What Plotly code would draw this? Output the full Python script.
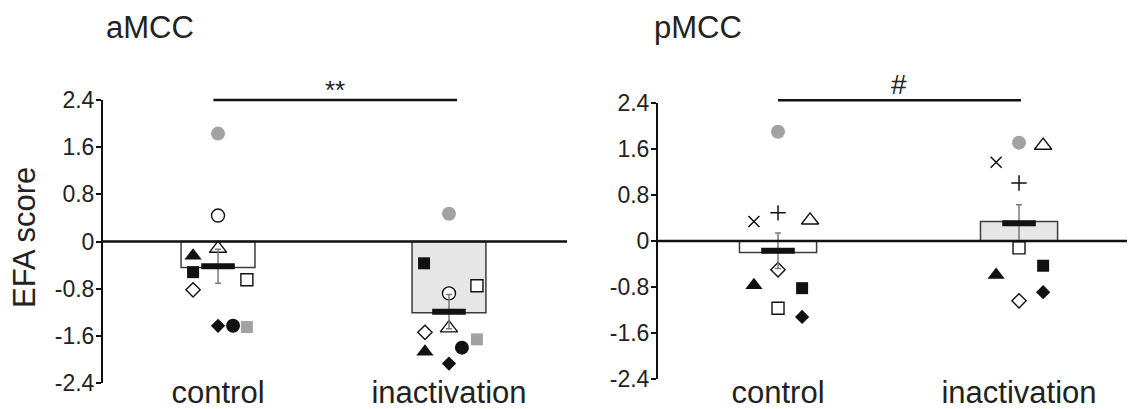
import plotly.graph_objects as go

# ---------------- data ----------------
categories = ["control", "inactivation"]
y_ticks = [-2.4, -1.6, -0.8, 0, 0.8, 1.6, 2.4]
y_ticktext = ["-2.4", "-1.6", "-0.8", "0", "0.8", "1.6", "2.4"]

# aMCC panel (10 animals)
amcc_animals = ["gray circle", "open circle", "open triangle", "filled triangle", "filled square",
                "open diamond", "open square", "filled diamond", "filled circle", "gray square"]
amcc_control = [1.83, 0.44, -0.12, -0.24, -0.52, -0.82, -0.65, -1.43, -1.43, -1.45]
amcc_inactivation = [0.47, -0.88, -1.47, -1.87, -0.37, -1.54, -0.75, -2.07, -1.80, -1.66]
amcc_bar = [-0.44, -1.21]
amcc_mean = [-0.42, -1.19]
amcc_sem = [0.29, 0.29]

# pMCC panel (9 animals)
pmcc_animals = ["gray circle", "cross", "plus", "open triangle", "open diamond",
                "filled triangle", "filled square", "open square", "filled diamond"]
pmcc_control = [1.90, 0.34, 0.49, 0.36, -0.50, -0.77, -0.82, -1.17, -1.32]
pmcc_inactivation = [1.71, 1.37, 1.01, 1.66, -1.04, -0.59, -0.43, -0.12, -0.89]
pmcc_bar = [-0.20, 0.34]
pmcc_mean = [-0.17, 0.31]
pmcc_sem = [0.31, 0.32]

# significance brackets: (from category, to category, level, label)
amcc_sig = (-0.02, 1.035, 2.4, "**")
pmcc_sig = (0.0, 1.008, 2.45, "#")

# horizontal jitter of the points (category units)
amcc_jit_control = [0, 0, 0, -0.108, -0.108, -0.108, 0.125, 0, 0.065, 0.125]
amcc_jit_inact = [0, 0, 0, -0.104, -0.108, -0.104, 0.121, 0, 0.056, 0.121]
pmcc_jit_control = [0, -0.1, 0, 0.133, 0, -0.1, 0.1, 0, 0.1]
pmcc_jit_inact = [0, -0.095, 0, 0.1, 0, -0.095, 0.1, 0, 0.1]

# ---------------- styles ----------------
GRAY = "#a2a2a2"
BLK = "#111111"
TXT = "#222222"
FONT = "Liberation Sans, Arial, sans-serif"

styles = {
    "gray circle": dict(symbol="circle", size=14, color=GRAY, line=dict(width=0)),
    "open circle": dict(symbol="circle", size=13, color="white", line=dict(width=1.4, color=BLK)),
    "filled circle": dict(symbol="circle", size=14, color=BLK, line=dict(width=0)),
    "open triangle": dict(symbol="triangle-up", size=15, color="white", line=dict(width=1.4, color=BLK)),
    "filled triangle": dict(symbol="triangle-up", size=15, color=BLK, line=dict(width=0)),
    "filled square": dict(symbol="square", size=12, color=BLK, line=dict(width=0)),
    "open square": dict(symbol="square", size=12, color="white", line=dict(width=1.4, color=BLK)),
    "gray square": dict(symbol="square", size=12, color=GRAY, line=dict(width=0)),
    "open diamond": dict(symbol="diamond", size=11, color="white", line=dict(width=1.4, color=BLK)),
    "filled diamond": dict(symbol="diamond", size=11, color=BLK, line=dict(width=0)),
    "cross": dict(symbol="x-thin-open", size=11, color=BLK, line=dict(width=1.5, color=BLK)),
    "plus": dict(symbol="cross-thin-open", size=11, color=BLK, line=dict(width=1.5, color=BLK)),
}

W, H = 1128, 409
fig = go.Figure()

xl_dom = [103 / W, 567 / W]
xr_dom = [658 / W, 1127 / W]
yl_dom = [1 - 383 / H, 1 - 100 / H]
yr_dom = [1 - 379 / H, 1 - 103 / H]
xl_rng = [-0.498, 1.511]
xr_rng = [-0.498, 1.448]
y_rng = [-2.4, 2.4]

panels = [
    dict(xa="x", ya="y", animals=amcc_animals, ctrl=amcc_control, inact=amcc_inactivation,
         jc=amcc_jit_control, ji=amcc_jit_inact, bar=amcc_bar, mean=amcc_mean, sem=amcc_sem,
         sig=amcc_sig, xdom=xl_dom, ydom=yl_dom, xrng=xl_rng, sigsize=26, sigdy=10),
    dict(xa="x2", ya="y2", animals=pmcc_animals, ctrl=pmcc_control, inact=pmcc_inactivation,
         jc=pmcc_jit_control, ji=pmcc_jit_inact, bar=pmcc_bar, mean=pmcc_mean, sem=pmcc_sem,
         sig=pmcc_sig, xdom=xr_dom, ydom=yr_dom, xrng=xr_rng, sigsize=28, sigdy=16),
]

for p in panels:
    fig.add_trace(go.Bar(
        x=[0, 1], y=p["bar"], width=0.32, xaxis=p["xa"], yaxis=p["ya"],
        marker=dict(color=["white", "#e6e6e6"], line=dict(color="#3c3c3c", width=1.5)),
        showlegend=False, hoverinfo="skip"))
    for a, c, i, jc, ji in zip(p["animals"], p["ctrl"], p["inact"], p["jc"], p["ji"]):
        fig.add_trace(go.Scatter(
            x=[0 + jc, 1 + ji], y=[c, i], mode="markers", xaxis=p["xa"], yaxis=p["ya"],
            marker=styles[a], showlegend=False, name=a))
    fig.add_trace(go.Scatter(
        x=[0, 1], y=p["mean"], mode="markers", xaxis=p["xa"], yaxis=p["ya"],
        marker=dict(symbol="line-ew-open", size=24, color=BLK, line=dict(width=6, color=BLK)),
        error_y=dict(type="data", array=p["sem"], color="#7a7a7a", thickness=1.5, width=3),
        showlegend=False))

    # zero line over the bars
    fig.add_shape(type="line", xref=f"{p['xa']} domain", yref=p["ya"], x0=0, x1=1, y0=0, y1=0,
                  line=dict(color=BLK, width=2.5), layer="above")

    # significance bracket (converted to paper coords to avoid clipping)
    def xp(v, p=p):
        r0, r1 = p["xrng"]
        d0, d1 = p["xdom"]
        return d0 + (v - r0) / (r1 - r0) * (d1 - d0)

    def yp(v, p=p):
        d0, d1 = p["ydom"]
        return d0 + (v - y_rng[0]) / (y_rng[1] - y_rng[0]) * (d1 - d0)

    a0, a1, lvl, lab = p["sig"]
    fig.add_shape(type="line", xref="paper", yref="paper", x0=xp(a0), x1=xp(a1),
                  y0=yp(lvl), y1=yp(lvl), line=dict(color=BLK, width=2.5))
    fig.add_annotation(text=lab, xref="paper", yref="paper", x=(xp(a0) + xp(a1)) / 2,
                       y=yp(lvl) + p["sigdy"] / H, xanchor="center", yanchor="middle",
                       showarrow=False, font=dict(size=p["sigsize"], color=TXT, family=FONT))

common_x = dict(tickvals=[0, 1], ticktext=categories, showline=False, showgrid=False,
                zeroline=False, ticks="", tickfont=dict(size=31, color=TXT, family=FONT),
                anchor="free", automargin=False, fixedrange=True)
common_y = dict(tickvals=y_ticks, ticktext=y_ticktext, range=y_rng, showline=True,
                linecolor=BLK, linewidth=2, ticks="outside", ticklen=5, tickwidth=2,
                tickcolor=BLK, showgrid=False, zeroline=False, automargin=False,
                ticklabelstandoff=-3,
                tickfont=dict(size=23, color=TXT, family=FONT))

fig.update_layout(
    template="none",
    width=W, height=H, margin=dict(l=0, r=0, t=0, b=0, autoexpand=False),
    paper_bgcolor="white", plot_bgcolor="white", showlegend=False,
    font=dict(family=FONT, color=TXT),
    xaxis=dict(domain=xl_dom, range=xl_rng, position=1 - 371 / H, **common_x),
    xaxis2=dict(domain=xr_dom, range=xr_rng, position=1 - 371 / H, **common_x),
    yaxis=dict(domain=yl_dom, anchor="x", **common_y),
    yaxis2=dict(domain=yr_dom, anchor="x2", **common_y),
)

# titles
fig.add_annotation(text="aMCC", xref="paper", yref="paper", x=104 / W, y=1 - 28 / H,
                   xanchor="left", yanchor="middle", showarrow=False,
                   font=dict(size=31, color=TXT, family=FONT))
fig.add_annotation(text="pMCC", xref="paper", yref="paper", x=652 / W, y=1 - 28 / H,
                   xanchor="left", yanchor="middle", showarrow=False,
                   font=dict(size=31, color=TXT, family=FONT))
fig.add_annotation(text="EFA score", xref="paper", yref="paper", x=24 / W, y=1 - 238 / H,
                   textangle=-90, xanchor="center", yanchor="middle", showarrow=False,
                   font=dict(size=31, color=TXT, family=FONT))

fig.write_html("out.html", config={"displayModeBar": False},
               post_script="document.body.style.margin='0';document.body.style.overflow='hidden';")
